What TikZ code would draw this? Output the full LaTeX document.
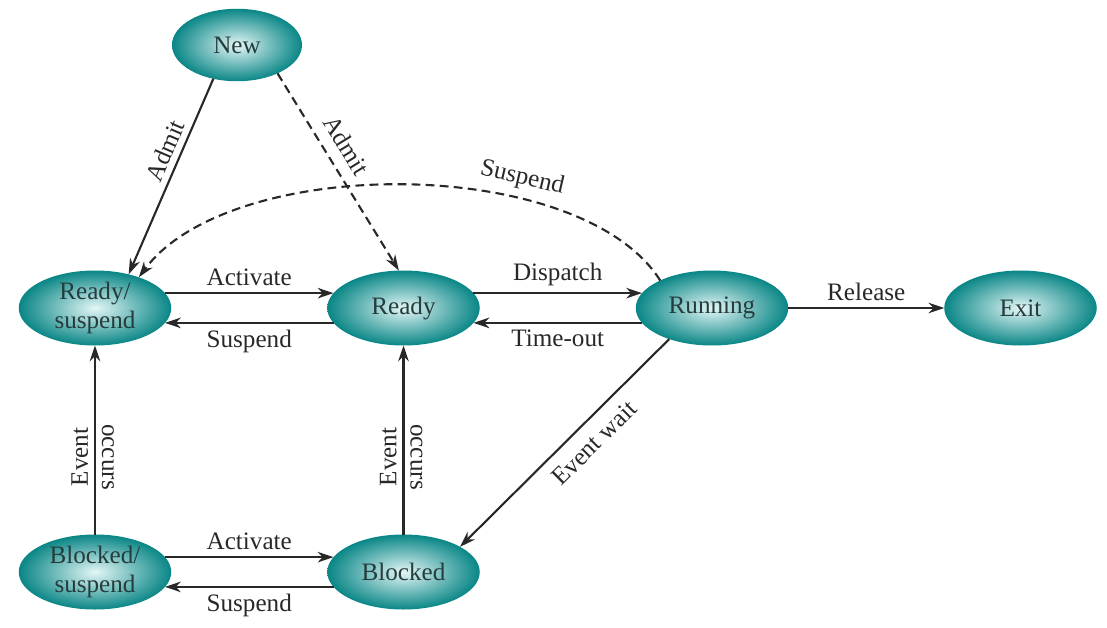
\documentclass[tikz,border=0pt]{standalone}
\usepackage{fontspec}
\setmainfont{Liberation Serif}
\usetikzlibrary{arrows.meta,positioning,shapes.geometric}
\definecolor{stateteal}{RGB}{10,134,134}
\definecolor{statelight}{RGB}{228,246,246}
\definecolor{statetext}{RGB}{38,60,60}
\definecolor{edgegray}{RGB}{40,40,40}

\begin{document}
\begin{tikzpicture}[
  state/.style={ellipse,shade,inner color=statelight,outer color=stateteal,text=statetext,align=center,
    minimum width=3.05cm,minimum height=1.5cm,inner sep=0pt,outer sep=0pt},
  tr/.style={draw=edgegray,line width=1.2pt,->},
  lbl/.style={text=edgegray},
  >={Stealth[length=9pt,width=6pt]},node distance=3.12cm,
  font=\fontsize{14.3}{17}\selectfont]
\useasboundingbox (0,0) rectangle (22.14,-12.56);
\node[state] (rs) at (1.9,-6.16) {Ready/\\suspend};
\node[state,right=of rs] (r) {Ready};
\node[state,right=of r] (run) {Running};
\node[state,right=of run] (exit) {Exit};
\node[state,below=3.78cm of rs] (bs) {Blocked/\\suspend};
\node[state,right=of bs] (b) {Blocked};
\node[state,minimum width=2.6cm,minimum height=1.45cm] (new) at (4.74,-0.9) {New};
% admit
\draw[tr] (new.235) -- (rs.45) node[lbl,pos=.4,above,sloped] {Admit};
\draw[tr,dash pattern=on 5pt off 3pt] (new.-35) -- (r.97) node[lbl,pos=.42,above=3pt,sloped] {Admit};
% middle row
\draw[tr] (rs.12) -- (r.168) node[lbl,midway,above] {Activate};
\draw[tr] (r.192) -- (rs.-12) node[lbl,midway,below] {Suspend};
\draw[tr] (r.12) -- (run.168) node[lbl,midway,above] {Dispatch};
\draw[tr] (run.192) -- (r.-12) node[lbl,midway,below] {Time-out};
\draw[tr] (run) -- (exit) node[lbl,midway,above] {Release};
\draw[tr,dash pattern=on 5pt off 3pt] (run.152) .. controls (11.6,-3.08) and (4.6,-3.08) .. (rs.35)
  node[lbl,pos=.32,above=1pt,sloped] {Suspend};
% blocked states
\draw[tr] (run.216) -- (b.24) node[lbl,pos=.43,below=3pt,sloped] {Event wait};
\draw[tr] (bs) -- (rs) node[lbl,pos=.41,above,sloped] {Event}
  node[lbl,pos=.41,rotate=-90,above] {occurs};
\draw[tr] (b) -- (r) node[lbl,pos=.41,above,sloped] {Event}
  node[lbl,pos=.41,rotate=-90,above] {occurs};
\draw[tr] (bs.12) -- (b.168) node[lbl,midway,above] {Activate};
\draw[tr] (b.192) -- (bs.-12) node[lbl,midway,below] {Suspend};
\end{tikzpicture}
\end{document}
